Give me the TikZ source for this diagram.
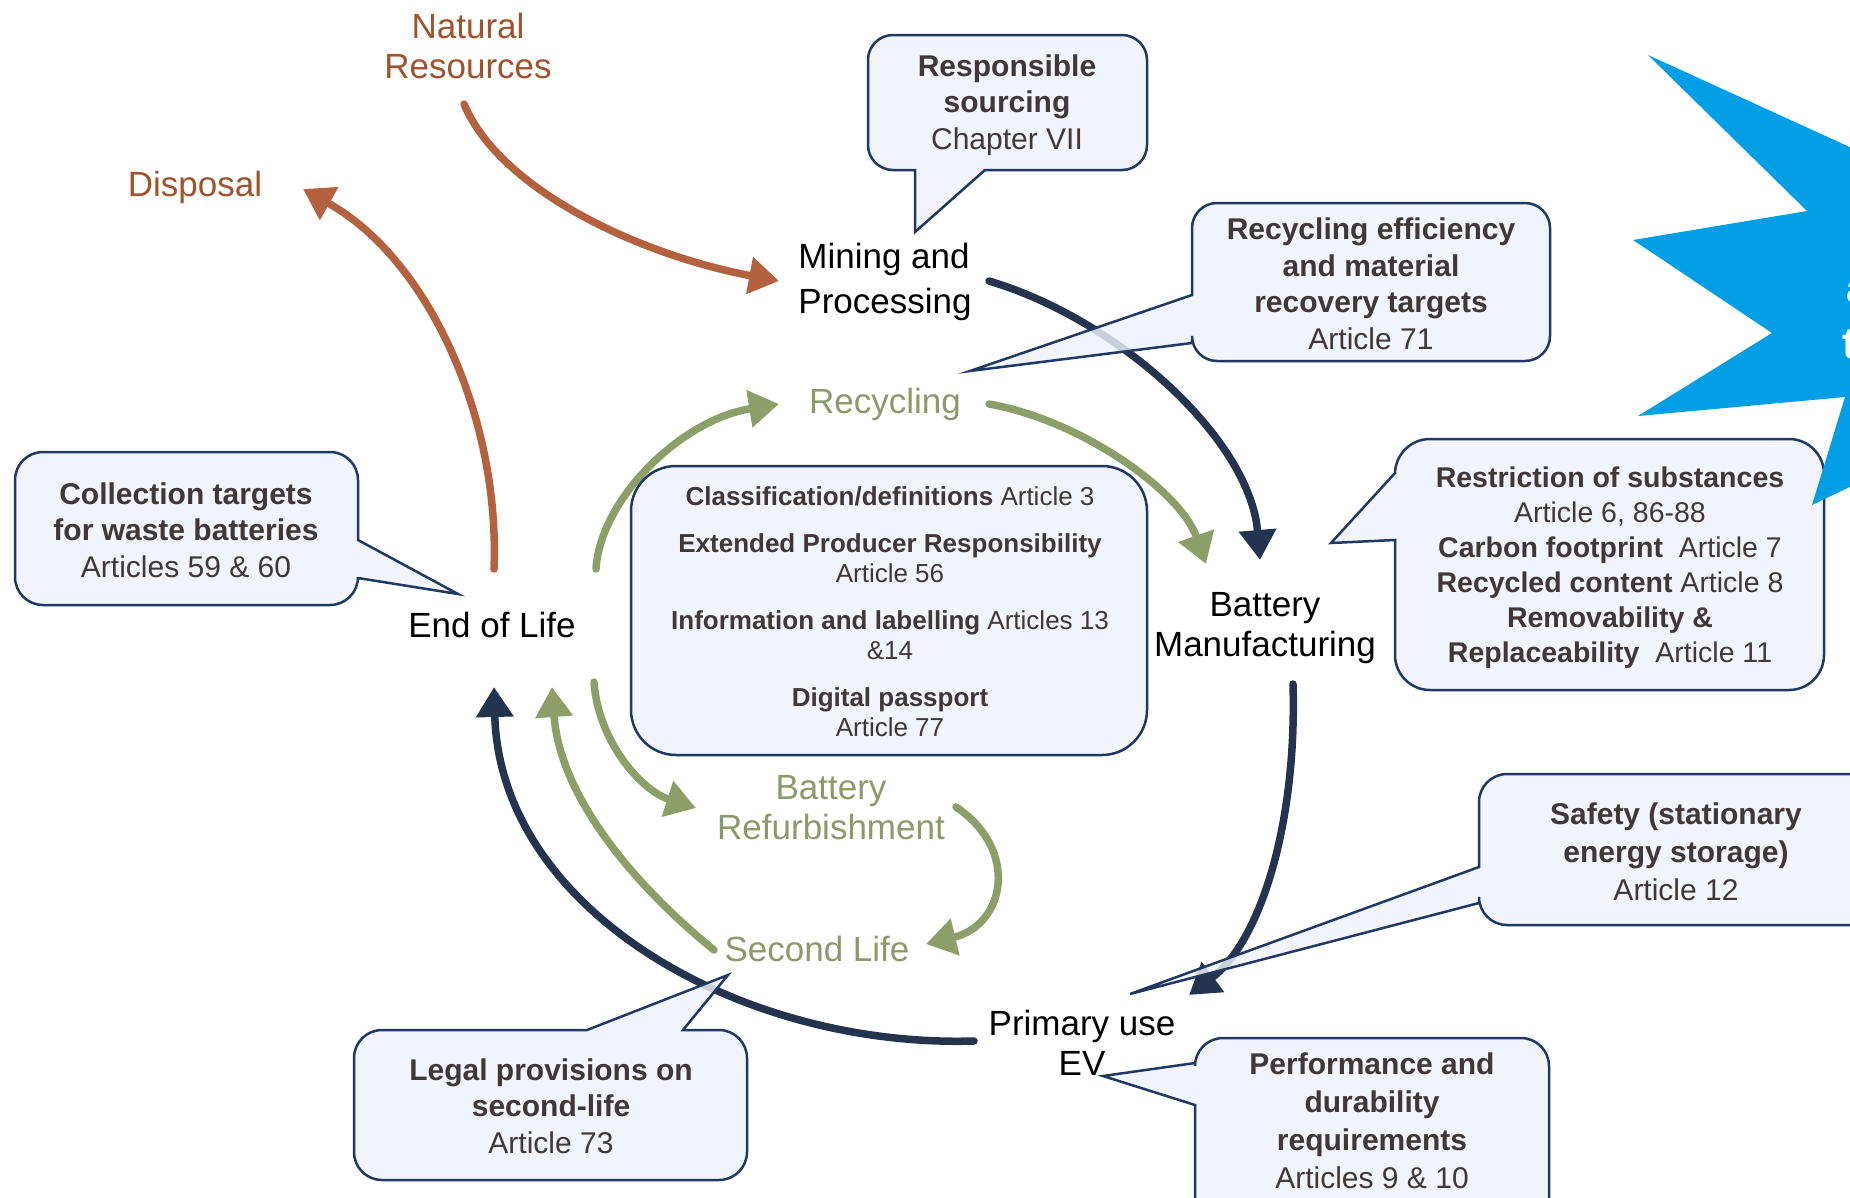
\documentclass[tikz,border=0pt]{standalone}
\usepackage{fontspec}
\setmainfont{Liberation Sans}
\usetikzlibrary{arrows.meta}
\definecolor{brownarr}{HTML}{B3613F}
\definecolor{browntxt}{HTML}{A0522D}
\definecolor{greenarr}{HTML}{8E9E69}
\definecolor{greentxt}{HTML}{8A9A68}
\definecolor{navyarr}{HTML}{24344F}
\definecolor{boxfill}{HTML}{EEF2FA}
\definecolor{boxline}{HTML}{1F3864}
\definecolor{boxtxt}{HTML}{403836}
\definecolor{starblue}{HTML}{009EE5}
\newcommand\calloutpath[9]{%
 (#1+#5,#2) #6 -- (#3-#5,#2) arc[start angle=-90,end angle=0,radius=#5]
 #7 -- (#3,#4-#5) arc[start angle=0,end angle=90,radius=#5]
 #8 -- (#1+#5,#4) arc[start angle=90,end angle=180,radius=#5]
 #9 -- (#1,#2+#5) arc[start angle=180,end angle=270,radius=#5] -- cycle}
\tikzset{
 flow/.style={line width=7.5pt, line cap=round, -{Triangle[length=30pt,width=36pt]}},
 brownflow/.style={flow, draw=brownarr},
 greenflow/.style={flow, draw=greenarr},
 navyflow/.style={flow, draw=navyarr},
 lbl/.style={font=\fontsize{35}{40}\selectfont, align=center, inner sep=0pt},
 calltxt/.style={font=\fontsize{30}{36.5}\selectfont, text=boxtxt, align=center, inner sep=0pt},
 callshape/.style={fill=boxfill, fill opacity=0.82, draw=boxline, line width=2.5pt, line join=miter},
}
\begin{document}
\begin{tikzpicture}[x=1pt,y=-1pt]
\fill[white] (0,0) rectangle (1850,1197);
\useasboundingbox (0,0) rectangle (1850,1197);

% ---- labels ----
\node[lbl, text=browntxt] (natres) at (468,46) {Natural\\Resources};
\node[lbl, text=browntxt] (disposal) at (195,187) {Disposal};
\node[lbl, font=\fontsize{35}{45}\selectfont, align=left] (mining) at (885,282) {Mining and\\Processing};
\node[lbl, text=greentxt] (recycling) at (885,404) {Recycling};
\node[lbl] (batman) at (1265,628) {Battery\\Manufacturing};
\node[lbl] (eol) at (492,625) {End of Life};
\node[lbl, text=greentxt] (refurb) at (831,808) {Battery\\Refurbishment};
\node[lbl, text=greentxt] (second) at (817,949) {Second Life};
\node[lbl] (primary) at (1082,1043) {Primary use\\EV};

% ---- connector end points ----
\coordinate (nr-s) at (464,104);
\coordinate (mp-w) at (779,281);
\coordinate (mp-e) at (989,281);
\coordinate (bm-n) at (1260,560);
\coordinate (bm-nw) at (1206,564);
\coordinate (bm-s) at (1293,684);
\coordinate (pu-n) at (1189,995);
\coordinate (pu-w) at (974,1041);
\coordinate (eol-n) at (494,569);
\coordinate (eol-ne) at (596,569);
\coordinate (eol-s) at (494,687);
\coordinate (eol-s2) at (552,687);
\coordinate (eol-se) at (594,682);
\coordinate (dis-e) at (303,189);
\coordinate (rc-w) at (779,404);
\coordinate (rc-e) at (989,404);
\coordinate (rf-w) at (696,808);
\coordinate (rf-e) at (956,807);
\coordinate (sl-e) at (926,944);
\coordinate (sl-w) at (714,950);

% ---- connectors ----
\draw[brownflow] (nr-s) .. controls (500,190) and (640,255) .. (mp-w);
\draw[brownflow] (eol-n) .. controls (500,420) and (430,260) .. (dis-e);
\draw[navyflow] (mp-e) .. controls (1120,320) and (1250,440) .. (bm-n);
\draw[navyflow] (bm-s) .. controls (1297,820) and (1262,940) .. (pu-n);
\draw[navyflow] (pu-w) .. controls (740,1048) and (500,910) .. (eol-s);
\draw[greenflow] (eol-ne) .. controls (600,500) and (680,420) .. (rc-w);
\draw[greenflow] (rc-e) .. controls (1080,420) and (1180,490) .. (bm-nw);
\draw[greenflow] (eol-se) .. controls (598,740) and (640,790) .. (rf-w);
\draw[greenflow] (rf-e) .. controls (1020,850) and (1005,925) .. (sl-e);
\draw[greenflow] (sl-w) .. controls (640,890) and (560,800) .. (eol-s2);

% ---- callout shapes ----
\draw[callshape] \calloutpath{868}{35}{1147}{170}{25}{}{}{-- (985,170) -- (915,232) -- (915,170)}{};
\draw[callshape] \calloutpath{1192}{203}{1550}{361}{25}{}{}{}{-- (1192,343) -- (970,371) -- (1192,295)};
\draw[callshape] \calloutpath{15}{452}{358}{605}{28}{}{-- (358,540) -- (458,594) -- (358,578)}{}{};
\draw[callshape] \calloutpath{631}{466}{1147}{755}{45}{}{}{}{};
\draw[callshape] \calloutpath{1395}{439}{1824}{690}{35}{}{}{}{-- (1395,540) -- (1331,543) -- (1395,473)};
\draw[callshape] \calloutpath{1479}{774}{1900}{925}{28}{}{}{}{-- (1479,903) -- (1130,994) -- (1479,867)};
\draw[callshape] \calloutpath{1195}{1038}{1549}{1240}{28}{}{}{}{-- (1195,1105) -- (1103,1076) -- (1195,1063)};
\draw[callshape] \calloutpath{354}{1030}{747}{1180}{28}{-- (587,1030) -- (728,975) -- (683,1030)}{}{}{};

% ---- callout texts ----
\node[calltxt] (resp) at (1007,105) {\textbf{Responsible}\\\textbf{sourcing}\\Chapter VII};
\node[calltxt] (receff) at (1371,284) {\textbf{Recycling efficiency}\\\textbf{and material}\\\textbf{recovery targets}\\Article 71};
\node[calltxt] (collect) at (186,530) {\textbf{Collection targets}\\\textbf{for waste batteries}\\Articles 59 \& 60};
\node[calltxt, font=\fontsize{26}{30}\selectfont] (central) at (890,612) {\textbf{Classification/definitions} Article 3\\[17pt]\textbf{Extended Producer Responsibility}\\Article 56\\[17pt]\textbf{Information and labelling} Articles 13\\\&14\\[17pt]\textbf{Digital passport}\\Article 77};
\node[calltxt, font=\fontsize{28.5}{35}\selectfont] (restrict) at (1610,568) {\textbf{Restriction of substances}\\Article 6, 86-88\\\textbf{Carbon footprint}\ \ Article 7\\\textbf{Recycled content} Article 8\\\textbf{Removability \&}\\\textbf{Replaceability}\ \ Article 11};
\node[calltxt, font=\fontsize{30}{38}\selectfont] (safety) at (1676,852) {\textbf{Safety (stationary}\\\textbf{energy storage)}\\Article 12};
\node[calltxt, font=\fontsize{30}{38}\selectfont] (perf) at (1372,1121) {\textbf{Performance and}\\\textbf{durability}\\\textbf{requirements}\\Articles 9 \& 10};
\node[calltxt] (legal) at (551,1106) {\textbf{Legal provisions on}\\\textbf{second-life}\\Article 73};

% ---- blue star (cut by the right edge) ----
\fill[starblue] (1648,55) -- (1900,170) -- (1900,463) -- (1812,505) -- (1845,397) -- (1638,416) -- (1772,333) -- (1633,240) -- (1807,211) -- cycle;
\node[font=\bfseries\fontsize{40}{46}\selectfont, text=white, anchor=base west, inner sep=0pt] (startxta) at (1846,302) {a};
\node[font=\bfseries\fontsize{44}{50}\selectfont, text=white, anchor=base west, inner sep=0pt] (startxtb) at (1842,358) {t};
\end{tikzpicture}
\end{document}
